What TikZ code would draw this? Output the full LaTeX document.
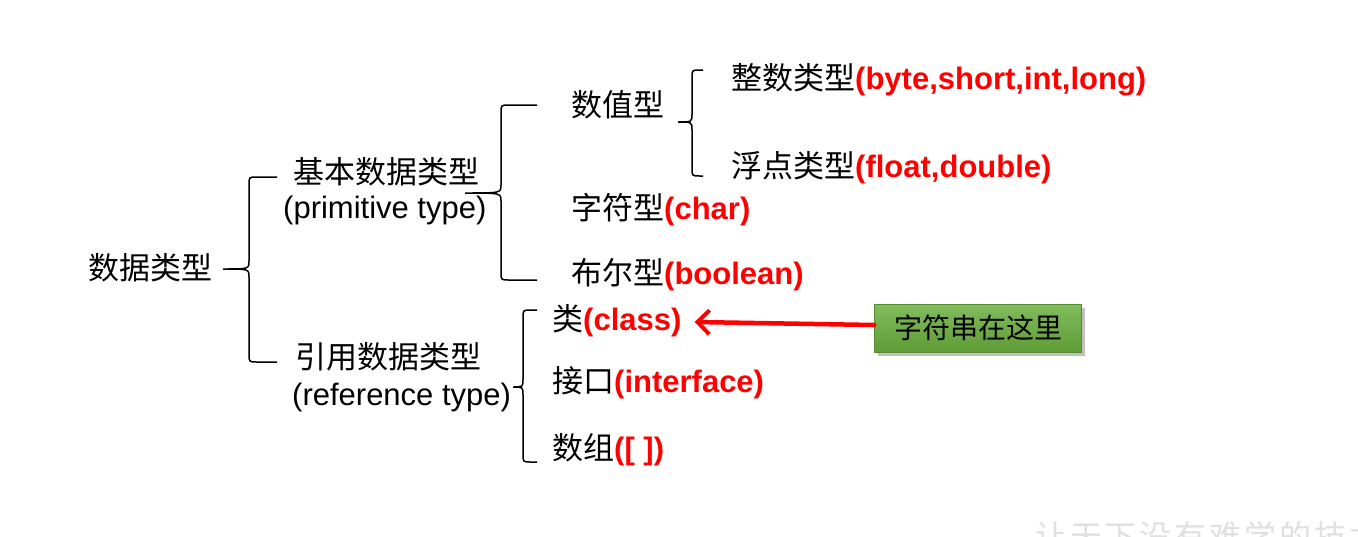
\documentclass[tikz,border=0pt]{standalone}
\usepackage{fontspec}
\setmainfont{Liberation Sans}
\newfontfamily\cjk{Noto Sans CJK SC}
\usetikzlibrary{arrows.meta,shadows}
\definecolor{myred}{RGB}{255,0,0}
\definecolor{gtop}{RGB}{130,188,94}
\definecolor{gbot}{RGB}{94,156,52}
\newcommand\redtxt[1]{\textcolor{myred}{\bfseries #1}}
% brace: tipx tipy vx topy boty endx
\newcommand\mybrace[6]{%
  \draw[bracestyle] (#6,#4) -- (#3+8,#4) .. controls (#3,#4) .. (#3,#4+8)
    -- (#3,#2-8) .. controls (#3,#2) .. (#1,#2)
    .. controls (#3,#2) .. (#3,#2+8) -- (#3,#5-8)
    .. controls (#3,#5) .. (#3+8,#5) -- (#6,#5);}
\begin{document}
\begin{tikzpicture}[x=1pt,y=-1pt,
  lbl/.style={anchor=west,inner sep=0pt,font=\fontsize{31}{36}\selectfont},
  bracestyle/.style={line width=1.5pt,black},
  greenbox/.style={minimum width=207pt,minimum height=48pt,inner sep=0pt,
    top color=gtop,bottom color=gbot,draw=gbot!90!black,line width=0.4pt,
    drop shadow={shadow xshift=3pt,shadow yshift=-4pt,opacity=0.4,fill=black!60},
    font=\cjk\fontsize{28}{30}\selectfont},
  pointer/.style={draw=myred,line width=4.5pt,line cap=round,
    -{Straight Barb[length=12pt,width=24pt,line width=4pt]}}]
\useasboundingbox[fill=white] (0,0) rectangle (1358,536);

\node[lbl] (dt) at (88,268) {\cjk 数据类型};
\node[lbl] (basic) at (293,172) {\cjk 基本数据类型};
\node[lbl] (prim) at (283,210) {(primitive type)};
\node[lbl] (ref) at (295,357) {\cjk 引用数据类型};
\node[lbl] (reft) at (292,397) {(reference type)};
\node[lbl] (num) at (571,105) {\cjk 数值型};
\node[lbl] (chr) at (571,210) {{\cjk 字符型}\redtxt{(char)}};
\node[lbl] (bool) at (571,275) {{\cjk 布尔型}\redtxt{(boolean)}};
\node[lbl] (int) at (731,80) {{\cjk 整数类型}\redtxt{(byte,short,int,long)}};
\node[lbl] (flt) at (731,168) {{\cjk 浮点类型}\redtxt{(float,double)}};
\node[lbl] (cls) at (552,321) {{\cjk 类}\redtxt{(class)}};
\node[lbl] (ifc) at (552,383) {{\cjk 接口}\redtxt{(interface)}};
\node[lbl] (arr) at (552,450) {{\cjk 数组}\redtxt{([ ])}};

\mybrace{223}{269}{249}{177}{362}{277}
\mybrace{465}{193}{501}{105}{280}{537}
\mybrace{678}{122}{692}{70}{176}{703}
\mybrace{513}{387}{523}{310}{462}{537}

\node[greenbox] (note) at (978,328) {字符串在这里};
\draw[pointer] ([yshift=3pt]note.west) -- ([xshift=13pt,yshift=-1pt]cls.east);

\node[anchor=west,inner sep=0pt,text=black!12,
  font=\cjk\fontsize{32}{32}\selectfont\addfontfeature{LetterSpace=9}] (wm) at (1035,536) {让天下没有难学的技术};
\end{tikzpicture}
\end{document}
